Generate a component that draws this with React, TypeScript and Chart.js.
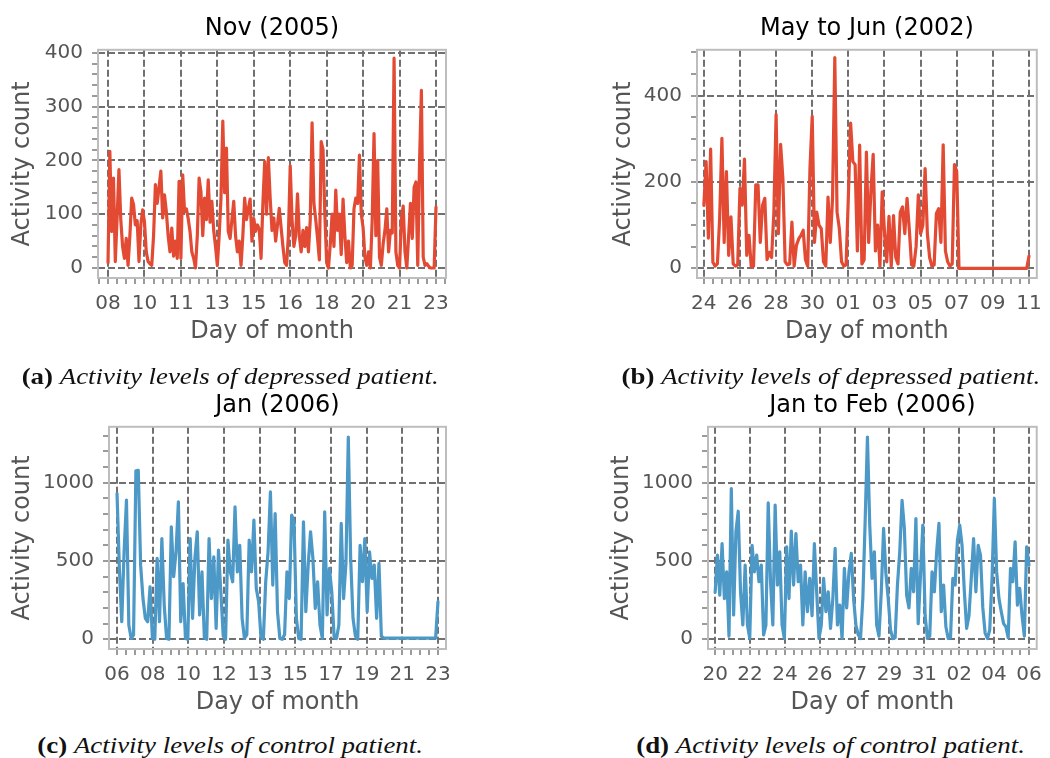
import React, { useEffect, useRef } from 'react';
import { Chart, registerables } from 'chart.js';

Chart.register(...registerables);

const FONT = "'DejaVu Sans', sans-serif";
const CAPTION_FONT = "'Liberation Serif', 'Times New Roman', serif";
const RED = '#E24A33';
const BLUE = '#4C98C6';
const GRID = '#707070';
const FRAME = '#bdbdbd';
const TEXT = '#555555';

// (a) Depressed patient, Nov 2005 — hourly activity counts sampled every 2 h
const NOV_TICKS = ['08', '10', '11', '13', '15', '16', '18', '20', '21', '23'];
const NOV_TICK_HOURS = 40;
const NOV_STEP_H = 2;
const NOV_COUNTS = [
  10, 217, 68, 167, 12, 95, 183, 90, 40, 18,
  55, 5, 60, 130, 118, 80, 88, 12, 80, 108,
  86, 30, 12, 8, 5, 60, 155, 120, 150, 180,
  93, 136, 105, 60, 30, 74, 22, 50, 18, 161,
  18, 173, 105, 110, 92, 68, 30, 18, 0, 60,
  167, 142, 60, 130, 90, 164, 85, 124, 70, 40,
  5, 60, 130, 273, 140, 223, 68, 55, 90, 124,
  60, 30, 50, 5, 60, 130, 90, 110, 128, 50,
  92, 68, 80, 72, 18, 120, 198, 100, 205, 130,
  70, 93, 50, 80, 111, 75, 40, 10, 5, 60,
  190, 90, 40, 60, 138, 60, 30, 70, 40, 75,
  30, 90, 270, 120, 90, 55, 15, 235, 220, 100,
  10, 0, 45, 100, 40, 145, 70, 100, 25, 128,
  60, 10, 50, 0, 5, 110, 130, 120, 210, 100,
  75, 20, 5, 30, 0, 90, 250, 60, 200, 20,
  5, 45, 70, 110, 30, 70, 65, 390, 30, 5,
  0, 90, 115, 30, 0, 60, 120, 55, 150, 160,
  5, 200, 330, 20, 5, 8, 3, 0, 0, 0, 113,
];

// (b) Depressed patient, May to Jun 2002 — sampled every 3 h
const MAYJUN_TICKS = ['24', '26', '28', '30', '01', '03', '05', '07', '09', '11'];
const MAYJUN_TICK_HOURS = 48;
const MAYJUN_STEP_H = 3;
const MAYJUN_COUNTS = [
  146, 247, 70, 276, 14, 5, 10, 115, 301, 60,
  224, 30, 119, 10, 5, 8, 185, 146, 253, 30,
  76, 3, 5, 193, 193, 60, 146, 162, 20, 37,
  25, 127, 356, 80, 287, 208, 15, 8, 10, 107,
  5, 53, 68, 76, 88, 20, 5, 231, 352, 60,
  130, 100, 92, 15, 5, 165, 60, 162, 488, 130,
  92, 15, 5, 8, 165, 336, 247, 240, 40, 285,
  10, 20, 269, 60, 180, 264, 40, 100, 5, 177,
  85, 15, 120, 5, 122, 25, 10, 130, 142, 80,
  162, 90, 8, 5, 50, 170, 80, 100, 231, 80,
  25, 5, 8, 127, 138, 60, 286, 40, 15, 5,
  10, 240, 224, 0, 0, 0, 0, 0, 0, 0,
  0, 0, 0, 0, 0, 0, 0, 0, 0, 0,
  0, 0, 0, 0, 0, 0, 0, 0, 0, 0,
  0, 0, 0, 0, 28,
];

// (c) Control patient, Jan 2006 — sampled every 3 h
const JAN_TICKS = ['06', '08', '10', '12', '13', '15', '17', '19', '21', '23'];
const JAN_TICK_HOURS = 136 / 3;
const JAN_STEP_H = 3;
const JAN_COUNTS = [
  930, 452, 113, 560, 888, 91, 5, 28, 1075, 1078,
  473, 260, 134, 112, 335, 5, 0, 516, 113, 643,
  218, 5, 0, 717, 400, 558, 877, 112, 356, 5,
  0, 643, 134, 516, 686, 155, 430, 10, 0, 643,
  260, 526, 70, 569, 300, 20, 0, 633, 430, 367,
  845, 430, 600, 134, 5, 30, 633, 430, 760, 325,
  240, 10, 0, 367, 558, 940, 346, 802, 176, 5,
  0, 30, 430, 260, 792, 750, 134, 5, 0, 750,
  176, 473, 686, 516, 197, 367, 91, 5, 813, 155,
  452, 303, 10, 5, 91, 739, 260, 484, 1290, 516,
  134, 20, 0, 600, 367, 643, 176, 558, 388, 473,
  134, 484, 20, 8, 8, 8, 8, 8, 8, 8,
  8, 8, 8, 8, 8, 8, 8, 8, 8, 8,
  8, 8, 8, 8, 8, 8, 240,
];

// (d) Control patient, Jan to Feb 2006 — sampled every 3 h
const JANFEB_TICKS = ['20', '22', '24', '26', '27', '29', '31', '02', '04', '06'];
const JANFEB_TICK_HOURS = 136 / 3;
const JANFEB_STEP_H = 3;
const JANFEB_COUNTS = [
  300, 537, 282, 611, 260, 430, 20, 962, 155, 686,
  817, 303, 91, 473, 91, 5, 600, 430, 537, 367,
  473, 28, 91, 870, 367, 91, 856, 346, 558, 91,
  5, 590, 260, 690, 346, 675, 367, 473, 91, 430,
  176, 388, 150, 611, 303, 5, 90, 388, 176, 303,
  70, 260, 580, 91, 218, 5, 452, 200, 430, 548,
  260, 91, 30, 5, 260, 750, 1290, 728, 388, 558,
  91, 20, 303, 707, 420, 260, 60, 5, 10, 346,
  558, 887, 707, 280, 200, 452, 303, 770, 100, 410,
  728, 150, 5, 20, 430, 303, 558, 739, 176, 346,
  80, 5, 10, 388, 346, 633, 728, 600, 303, 70,
  150, 388, 643, 303, 600, 537, 200, 40, 5, 60,
  388, 898, 430, 260, 176, 100, 80, 10, 452, 367,
  622, 218, 325, 150, 20, 590, 473,
];

type TickItem = { value: number; minor: boolean };

// Major ticks every `major`, with `divs` minor subdivisions, inside [min, max]
function axisTicks(min: number, max: number, major: number, divs: number): TickItem[] {
  const step = major / divs;
  const out: TickItem[] = [];
  const k0 = Math.ceil(min / step - 1e-6);
  const k1 = Math.floor(max / step + 1e-6);
  for (let k = k0; k <= k1; k++) {
    out.push({ value: k * step, minor: ((k % divs) + divs) % divs !== 0 });
  }
  return out;
}

// Light grey box around the plotting area
const framePlugin = {
  id: 'panelFrame',
  beforeDatasetsDraw(chart: any) {
    const { ctx, chartArea: a } = chart;
    ctx.save();
    ctx.strokeStyle = FRAME;
    ctx.lineWidth = 2;
    ctx.strokeRect(a.left, a.top, a.right - a.left, a.bottom - a.top);
    ctx.restore();
  },
};

type PanelProps = {
  left: number;
  top: number;
  width: number;
  height: number;
  title: string;
  counts: number[];
  stepHours: number;
  tickLabels: string[];
  tickHours: number;
  xMin: number;
  xMax: number;
  yMin: number;
  yMax: number;
  yMajor: number;
  yDivs: number;
  color: string;
  yAxisWidth: number;
  yTitlePad: number;
  padRight: number;
};

function Panel(p: PanelProps) {
  const ref = useRef<HTMLCanvasElement>(null);

  useEffect(() => {
    const canvas = ref.current;
    if (!canvas) return;
    const xTicks = axisTicks(p.xMin, p.xMax, p.tickHours, 4);
    const yTicks = axisTicks(p.yMin, p.yMax, p.yMajor, p.yDivs);
    const gridColor = (ctx: any) => (ctx.tick && ctx.tick.minor ? 'rgba(0,0,0,0)' : GRID);

    const chart = new Chart(canvas, {
      type: 'line',
      data: {
        datasets: [
          {
            data: p.counts.map((v, i) => ({ x: i * p.stepHours, y: v })),
            borderColor: p.color,
            backgroundColor: p.color,
            borderWidth: 3.2,
            borderJoinStyle: 'round',
            borderCapStyle: 'round',
            pointRadius: 0,
            tension: 0,
            fill: false,
          },
        ],
      },
      options: {
        animation: false,
        responsive: false,
        maintainAspectRatio: false,
        devicePixelRatio: 1,
        events: [],
        layout: { padding: { left: 0, right: p.padRight, top: 0, bottom: 0 }, autoPadding: false },
        plugins: {
          legend: { display: false },
          tooltip: { enabled: false },
          title: {
            display: true,
            fullSize: false,
            text: p.title,
            color: '#000000',
            font: { family: FONT, size: 24, weight: 'normal' },
            padding: { top: 14, bottom: 7 },
          },
        },
        scales: {
          x: {
            type: 'linear',
            bounds: 'data',
            min: p.xMin,
            max: p.xMax,
            afterBuildTicks: (s: any) => {
              s.ticks = xTicks.map((t) => ({ ...t }));
            },
            afterFit: (s: any) => {
              s.height = 72;
            },
            ticks: {
              autoSkip: false,
              maxRotation: 0,
              padding: 8,
              color: TEXT,
              font: { family: FONT, size: 20 },
              callback: (value: any, index: number, ticks: any[]) =>
                ticks[index].minor ? '' : p.tickLabels[Math.round(Number(value) / p.tickHours)] ?? '',
            },
            grid: {
              color: gridColor,
              lineWidth: 2,
              tickLength: 6,
              tickColor: GRID,
              tickWidth: 1.4,
            },
            border: { display: false, dash: [7, 3] },
            title: {
              display: true,
              text: 'Day of month',
              color: TEXT,
              font: { family: FONT, size: 24 },
              padding: { top: 0, bottom: 4 },
            },
          },
          y: {
            type: 'linear',
            bounds: 'data',
            min: p.yMin,
            max: p.yMax,
            afterBuildTicks: (s: any) => {
              s.ticks = yTicks.map((t) => ({ ...t }));
            },
            afterFit: (s: any) => {
              s.width = p.yAxisWidth;
            },
            ticks: {
              autoSkip: false,
              padding: 9,
              color: TEXT,
              font: { family: FONT, size: 20 },
              callback: (value: any, index: number, ticks: any[]) =>
                ticks[index].minor ? '' : String(Math.round(Number(value))),
            },
            grid: {
              color: gridColor,
              lineWidth: 2,
              tickLength: 6,
              tickColor: GRID,
              tickWidth: 1.4,
            },
            border: { display: false, dash: [7, 3] },
            title: {
              display: true,
              text: 'Activity count',
              color: TEXT,
              font: { family: FONT, size: 24 },
              padding: { top: p.yTitlePad, bottom: 0 },
            },
          },
        },
      } as any,
      plugins: [framePlugin],
    });

    return () => chart.destroy();
  }, []);

  return (
    <canvas
      ref={ref}
      width={p.width}
      height={p.height}
      style={{ position: 'absolute', left: p.left, top: p.top, width: p.width, height: p.height }}
    />
  );
}

function Caption(props: { cx: number; top: number; tag: string; text: string }) {
  return (
    <div
      style={{
        position: 'absolute',
        left: props.cx - 300,
        top: props.top,
        width: 600,
        textAlign: 'center',
        fontFamily: CAPTION_FONT,
        fontSize: 24,
        lineHeight: '28px',
        color: '#111',
        whiteSpace: 'nowrap',
      }}
    >
      <span style={{ display: 'inline-block', transform: 'scaleX(1.12)' }}>
        <b>{props.tag}</b> <i>{props.text}</i>
      </span>
    </div>
  );
}

export default function App() {
  return (
    <div style={{ position: 'absolute', left: 0, top: 0, width: 1050, height: 758, background: '#fff', overflow: 'hidden' }}>
      <Panel
        left={0} top={0} width={460} height={350}
        title="Nov (2005)"
        counts={NOV_COUNTS} stepHours={NOV_STEP_H}
        tickLabels={NOV_TICKS} tickHours={NOV_TICK_HOURS}
        xMin={-11} xMax={371}
        yMin={-18.6} yMax={405.6} yMajor={100} yDivs={5}
        color={RED} yAxisWidth={98} yTitlePad={8.6} padRight={14}
      />
      <Panel
        left={560} top={0} width={490} height={350}
        title="May to Jun (2002)"
        counts={MAYJUN_COUNTS} stepHours={MAYJUN_STEP_H}
        tickLabels={MAYJUN_TICKS} tickHours={MAYJUN_TICK_HOURS}
        xMin={-9.1} xMax={442.4}
        yMin={-22.5} yMax={505.8} yMajor={200} yDivs={4}
        color={RED} yAxisWidth={137} yTitlePad={49} padRight={5}
      />
      <Panel
        left={0} top={377} width={460} height={344}
        title="Jan (2006)"
        counts={JAN_COUNTS} stepHours={JAN_STEP_H}
        tickLabels={JAN_TICKS} tickHours={JAN_TICK_HOURS}
        xMin={-10.2} xMax={418.2}
        yMin={-62} yMax={1355.7} yMajor={500} yDivs={5}
        color={BLUE} yAxisWidth={109} yTitlePad={8.6} padRight={14}
      />
      <Panel
        left={560} top={377} width={490} height={344}
        title="Jan to Feb (2006)"
        counts={JANFEB_COUNTS} stepHours={JANFEB_STEP_H}
        tickLabels={JANFEB_TICKS} tickHours={JANFEB_TICK_HOURS}
        xMin={-9.3} xMax={418.1}
        yMin={-62} yMax={1355.7} yMajor={500} yDivs={5}
        color={BLUE} yAxisWidth={148} yTitlePad={47.6} padRight={5}
      />
      <Caption cx={230} top={362} tag="(a)" text="Activity levels of depressed patient." />
      <Caption cx={831} top={362} tag="(b)" text="Activity levels of depressed patient." />
      <Caption cx={230} top={731} tag="(c)" text="Activity levels of control patient." />
      <Caption cx={831} top={731} tag="(d)" text="Activity levels of control patient." />
    </div>
  );
}
